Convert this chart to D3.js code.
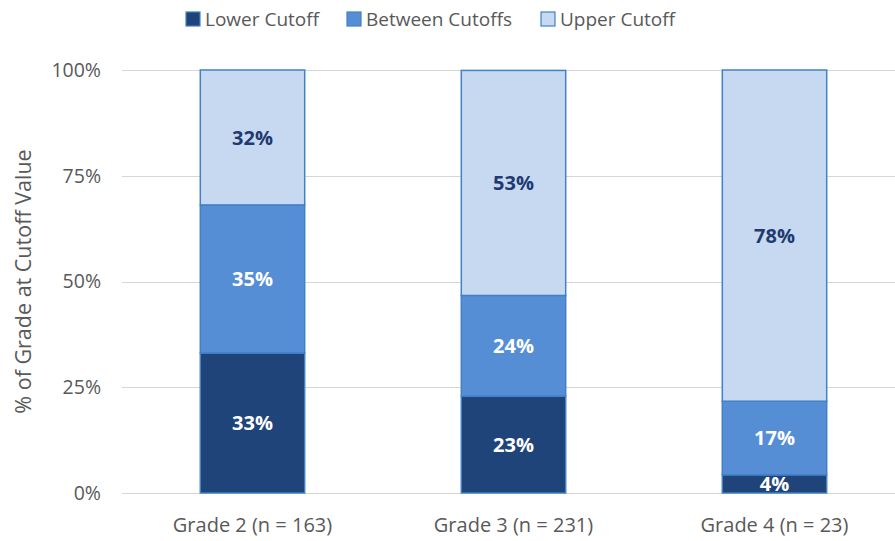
<!DOCTYPE html>
<html>
<head>
<meta charset="utf-8">
<script src="https://cdn.jsdelivr.net/npm/d3@7"></script>
<style>
  body { margin: 0; background: #fff; }
  text { font-family: "Open Sans", "Noto Sans", sans-serif; }
</style>
</head>
<body>
<div id="chart"></div>
<script>
var width = 895,
    height = 541;

// data (percent of grade, labels rounded)
var grades = ["Grade 2 (n = 163)", "Grade 3 (n = 231)", "Grade 4 (n = 23)"];
var seriesNames = ["Lower Cutoff", "Between Cutoffs", "Upper Cutoff"];
var lowerCutoff = [33.1, 22.9, 4.3];
var betweenCutoffs = [35.0, 23.8, 17.4];
var upperCutoff = [31.9, 53.2, 78.3];
var yTicks = [0, 25, 50, 75, 100];

var colors = ["#1f4479", "#558ed5", "#c6d9f1"];
var labelColors = ["#ffffff", "#ffffff", "#1f3a70"];

var margin = {top: 70, right: -10, bottom: 48, left: 122};

var svg = d3.select("#chart").append("svg")
    .attr("width", width)
    .attr("height", height);

var rows = grades.map(function(g, i){
    return {grade: g, "Lower Cutoff": lowerCutoff[i], "Between Cutoffs": betweenCutoffs[i], "Upper Cutoff": upperCutoff[i]};
});
var stacked = d3.stack().keys(seriesNames)(rows);

var x = d3.scaleBand()
    .domain(grades)
    .range([margin.left, width - margin.right])
    .paddingInner(0.6)
    .paddingOuter(0.3);

var y = d3.scaleLinear()
    .domain([0, 100])
    .range([height - margin.bottom, margin.top]);

// gridlines
svg.append("g").selectAll("line")
    .data(yTicks)
    .enter().append("line")
    .attr("x1", margin.left)
    .attr("x2", width)
    .attr("y1", function(d){ return Math.round(y(d)) + 0.5; })
    .attr("y2", function(d){ return Math.round(y(d)) + 0.5; })
    .attr("stroke", "#d6d6d6")
    .attr("stroke-width", 1.2);

// y tick labels
svg.append("g").selectAll("text")
    .data(yTicks)
    .enter().append("text")
    .attr("x", 101)
    .attr("y", function(d){ return y(d); })
    .attr("dy", "0.35em")
    .attr("text-anchor", "end")
    .attr("fill", "#595959")
    .style("font-size", "19.5px")
    .text(function(d){ return d + "%"; });

// y title
svg.append("text")
    .attr("transform", "translate(23," + ((y(0) + y(100)) / 2) + ") rotate(-90)")
    .attr("text-anchor", "middle")
    .attr("dy", "0.35em")
    .attr("fill", "#595959")
    .style("font-size", "21.5px")
    .text("% of Grade at Cutoff Value");

// bars
var layers = svg.append("g").selectAll("g")
    .data(stacked)
    .enter().append("g")
    .attr("fill", function(d, i){ return colors[i]; });

layers.selectAll("rect")
    .data(function(d){ return d; })
    .enter().append("rect")
    .attr("x", function(d){ return x(d.data.grade); })
    .attr("width", x.bandwidth())
    .attr("y", function(d){ return y(Math.min(d[1], 100)); })
    .attr("height", function(d){ return y(d[0]) - y(Math.min(d[1], 100)); })
    .attr("stroke", "#4281c6")
    .attr("stroke-width", 1.5);

// value labels
var labelLayers = svg.append("g").selectAll("g")
    .data(stacked)
    .enter().append("g")
    .attr("fill", function(d, i){ return labelColors[i]; });

labelLayers.selectAll("text")
    .data(function(d){ return d.map(function(p){ return {p: p, key: d.key}; }); })
    .enter().append("text")
    .attr("x", function(d){ return x(d.p.data.grade) + x.bandwidth() / 2; })
    .attr("y", function(d){ return (y(d.p[0]) + y(Math.min(d.p[1], 100))) / 2; })
    .attr("dy", "0.36em")
    .attr("text-anchor", "middle")
    .style("font-size", "20px")
    .style("font-weight", "bold")
    .text(function(d){ return Math.round(d.p.data[d.key]) + "%"; });

// x labels
svg.append("g").selectAll("text")
    .data(grades)
    .enter().append("text")
    .attr("x", function(d){ return x(d) + x.bandwidth() / 2; })
    .attr("y", 532)
    .attr("text-anchor", "middle")
    .attr("fill", "#595959")
    .style("font-size", "20px")
    .text(function(d){ return d; });

// legend
var legendX = [186, 347, 541];
var legend = svg.append("g").selectAll("g")
    .data(seriesNames)
    .enter().append("g")
    .attr("transform", function(d, i){ return "translate(" + legendX[i] + ",12)"; });

legend.append("rect")
    .attr("width", 14)
    .attr("height", 14)
    .attr("fill", function(d, i){ return colors[i]; })
    .attr("stroke", "#4281c6")
    .attr("stroke-width", 1.2);

legend.append("text")
    .attr("x", 19)
    .attr("y", 7)
    .attr("dy", "0.35em")
    .attr("fill", "#595959")
    .style("font-size", "19px")
    .text(function(d){ return d; });
</script>
</body>
</html>
